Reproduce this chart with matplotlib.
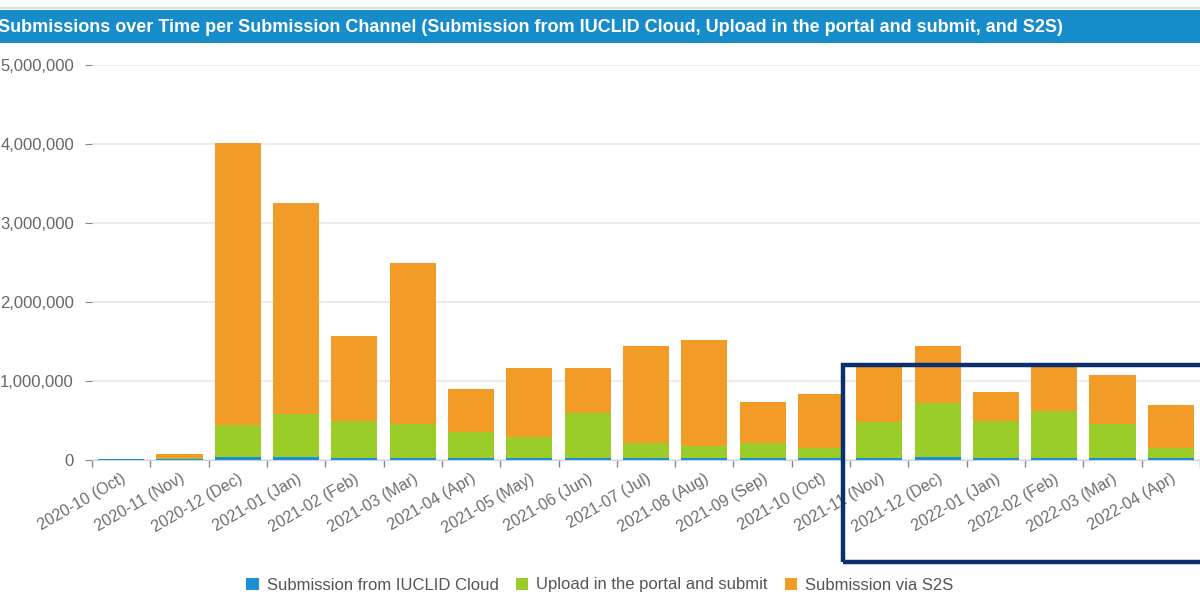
# Submissions over time per submission channel - stacked bars
import numpy as np
import matplotlib.pyplot as plt
from matplotlib.patches import Rectangle, Patch

plt.rcParams['font.family'] = ['Liberation Sans', 'DejaVu Sans']

# months on the x axis
months = ['2020-10 (Oct)', '2020-11 (Nov)', '2020-12 (Dec)', '2021-01 (Jan)', '2021-02 (Feb)',
          '2021-03 (Mar)', '2021-04 (Apr)', '2021-05 (May)', '2021-06 (Jun)', '2021-07 (Jul)',
          '2021-08 (Aug)', '2021-09 (Sep)', '2021-10 (Oct)', '2021-11 (Nov)', '2021-12 (Dec)',
          '2022-01 (Jan)', '2022-02 (Feb)', '2022-03 (Mar)', '2022-04 (Apr)']

# values
cloud = [8000, 8000, 32000, 32000, 30000, 30000, 28000, 28000, 28000, 26000,
         26000, 26000, 26000, 30000, 32000, 30000, 30000, 30000, 26000]
upload = [0, 15000, 408000, 548000, 460000, 427000, 323000, 264000, 572000, 184000,
          152000, 190000, 129000, 445000, 688000, 465000, 590000, 427000, 124000]
s2s = [0, 50000, 3570000, 2670000, 1075000, 2043000, 546000, 873000, 565000, 1237000,
       1345000, 524000, 685000, 715000, 727000, 365000, 570000, 623000, 550000]

series_names = ['Submission from IUCLID Cloud', 'Upload in the portal and submit', 'Submission via S2S']
colors = ['#1b8fd3', '#9acd28', '#f29b26']

fig = plt.figure(figsize=(12, 6.12), dpi=100)

# title bar
fig.add_artist(plt.Line2D([0, 1], [1 - 8/612, 1 - 8/612], color='#dddddd', lw=1.5))
fig.add_artist(Rectangle((0, 1 - 43/612), 1, 33/612, transform=fig.transFigure,
                         facecolor='#168cca', edgecolor='none'))
fig.text(-0.002, 1 - 27/612,
         'Submissions over Time per Submission Channel (Submission from IUCLID Cloud, Upload in the portal and submit, and S2S)',
         color='white', fontsize=13, fontweight='bold', va='center', ha='left')

ax = fig.add_axes([92/1200, 152/612, 1108/1200, 395/612])

x = np.arange(len(months))
cloud = np.array(cloud)
upload = np.array(upload)
s2s = np.array(s2s)
ax.bar(x, cloud, width=0.79, color=colors[0], linewidth=0, zorder=3)
ax.bar(x, upload, width=0.79, bottom=cloud, color=colors[1], linewidth=0, zorder=3)
ax.bar(x, s2s, width=0.79, bottom=cloud + upload, color=colors[2], linewidth=0, zorder=3)

ax.set_xlim(-0.5, len(months) - 0.5)
ax.set_ylim(0, 5000000)
ax.set_yticks(np.arange(0, 5000001, 1000000))
ax.set_yticklabels(['0', '1,000,000', '2,000,000', '3,000,000', '4,000,000', '5,000,000'])
ax.grid(axis='y', color='#e8e8e8', lw=1.2, zorder=0)

# ticks at category boundaries, labels at centres
ax.set_xticks(np.arange(-0.5, len(months)), minor=False)
ax.set_xticklabels([])
ax.set_xticks(x, minor=True)
ax.set_xticklabels(months, minor=True, rotation=30, ha='right', rotation_mode='anchor')
ax.tick_params(axis='x', which='major', length=5, color='#888888', width=1)
ax.tick_params(axis='x', which='minor', length=0, pad=8, labelsize=11.5, labelcolor='#6e6e6e')
ax.tick_params(axis='y', length=5, color='#888888', pad=8, labelsize=12, labelcolor='#666666')

for s in ['top', 'right', 'left']:
    ax.spines[s].set_visible(False)
ax.spines['bottom'].set_color('#ccd6eb')

handles = [Patch(facecolor=c, edgecolor='none') for c in colors]
fig.legend(handles, series_names, loc='center', bbox_to_anchor=(0.5, 27/612), ncol=3,
           frameon=False, fontsize=12, labelcolor='#555555', handlelength=0.75, handleheight=0.75,
           handletextpad=0.5, columnspacing=1.0)

# highlight box
fig.add_artist(Rectangle((843/1200, 1 - 562/612), 400/1200, 197/612, transform=fig.transFigure,
                         facecolor='none', edgecolor='#0b2f6e', lw=3.2))

plt.savefig('out.png', dpi=100)
